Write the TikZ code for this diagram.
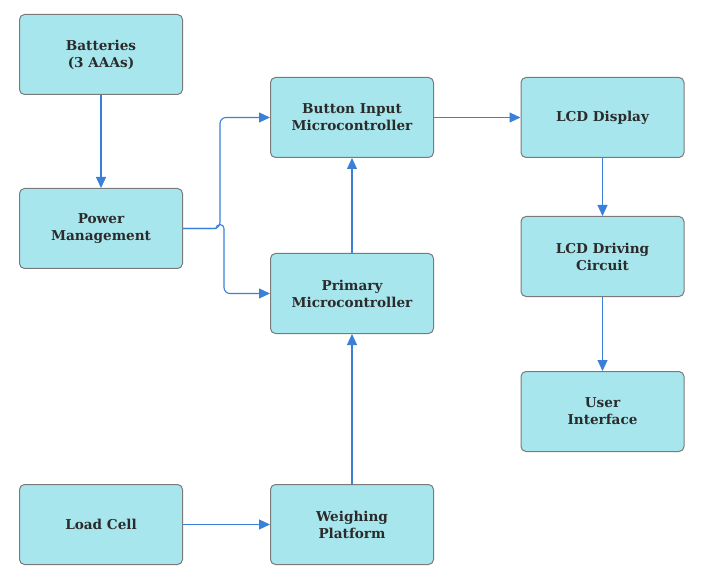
\documentclass[tikz,border=0pt]{standalone}
\usepackage{fontspec}
\setmainfont{DejaVu Serif}
\usetikzlibrary{arrows.meta,positioning}
\definecolor{boxfill}{HTML}{A8E6EE}
\definecolor{boxline}{HTML}{7A7A7A}
\definecolor{linkblue}{HTML}{3A80D9}
\definecolor{txtgray}{HTML}{2B2B2B}

\begin{document}
\begin{tikzpicture}[x=1pt, y=-1pt, >={Triangle[length=11pt,width=10pt]},
  block/.style={draw=boxline, line width=1pt, fill=boxfill, rounded corners=5pt,
    minimum width=163pt, minimum height=80pt, align=center, text=txtgray,
    font=\fontsize{13.6}{17}\selectfont\bfseries},
  link/.style={->, draw=linkblue, fill=none, line width=1.1pt}]
  \useasboundingbox (0,0) rectangle (707,588);

  % ---- Left column ----
  \node[block] (bat)  at (101,54.5)  {Batteries\\(3 AAAs)};
  \node[block] (pwr)  at (101,228.5) {Power\\Management};
  \node[block] (load) at (101,524.5) {Load Cell};

  % ---- Middle column ----
  \node[block] (btn)   at (352,117.5) {Button Input\\Microcontroller};
  \node[block] (prim)  at (352,293.5) {Primary\\Microcontroller};
  \node[block] (weigh) at (352,524.5) {Weighing\\Platform};

  % ---- Right column ----
  \node[block] (lcd) at (602.5,117.5) {LCD Display};
  \node[block] (drv) at (602.5,256.5) {LCD Driving\\Circuit};
  \node[block] (ui)  at (602.5,411.5) {User\\Interface};

  % Connectors
  \draw[link] (bat) -- (pwr);
  \draw[link] (load) -- (weigh);
  \draw[link] (weigh) -- (prim);
  \draw[link] (prim) -- (btn);
  \draw[link] (btn) -- (lcd);
  \draw[link] (lcd) -- (drv);
  \draw[link] (drv) -- (ui);

  % Power split (the lower branch hops over the upper one)
  \coordinate (hop) at (220,228.5);
  \draw[link, rounded corners=6pt] (pwr.east) -- (hop) -- (hop |- btn.west) -- (btn.west);
  \draw[link] (pwr.east) -- ([xshift=-4pt]hop) arc[start angle=180, end angle=0, radius=4pt]
    [rounded corners=6pt] -- ([xshift=4pt]hop |- prim.west) -- (prim.west);
\end{tikzpicture}
\end{document}
